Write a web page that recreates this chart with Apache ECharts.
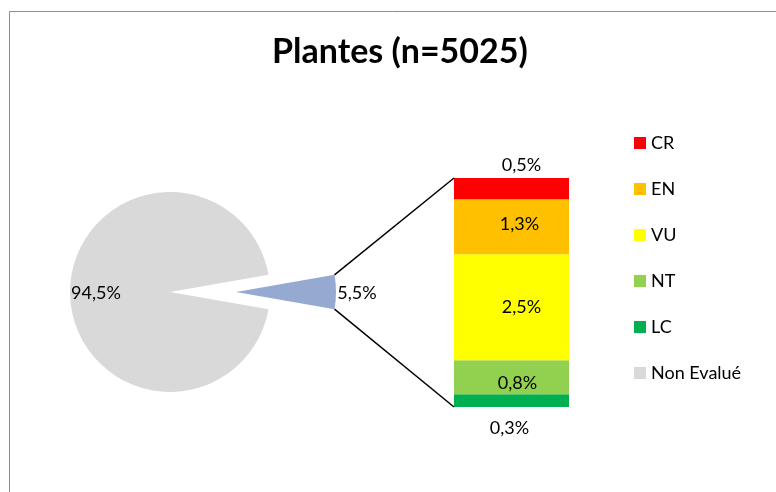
<!DOCTYPE html>
<html>
<head>
<meta charset="utf-8">
<script src="https://cdn.jsdelivr.net/npm/echarts@6/dist/echarts.min.js"></script>
<style>
html,body{margin:0;padding:0;background:#fff}
#chart{width:776px;height:492px}
</style>
</head>
<body>
<div id="chart"></div>
<script>
// Pie: evaluated vs not evaluated share of the flora
const titleText = 'Plantes (n=5025)';
const pieNames = ['Evalué', 'Non Evalué'];
const pieValues = [5.5, 94.5];
const pieColors = ['#95A9D1', '#D9D9D9'];

// Breakdown of the evaluated share by red-list status (top to bottom)
const statusNames = ['CR', 'EN', 'VU', 'NT', 'LC'];
const statusValues = [0.5, 1.3, 2.5, 0.8, 0.3];
const statusColors = ['#FF0000', '#FFC000', '#FFFF00', '#92D050', '#00B050'];

const legendNames = ['CR', 'EN', 'VU', 'NT', 'LC', 'Non Evalué'];

const FONT = 'Lato, "Open Sans", sans-serif';
const LABEL_SIZE = 18;
const fmt = v => v.toFixed(1).replace('.', ',') + '%';

const pieTotal = pieValues.reduce((a, b) => a + b, 0);
const barTotal = statusValues.reduce((a, b) => a + b, 0);

const PIE_CENTER = [170, 292];
const PIE_R = 100;
const PIE_OFFSET = 66;
const GRID = { left: 454, top: 178, width: 115, height: 229 };

// label placement per status
const labelShift = {
  CR: { position: 'top', offset: [10, 0] },
  EN: { position: 'inside', offset: [8, -3] },
  VU: { position: 'inside', offset: [10, 0] },
  NT: { position: 'inside', offset: [6, 6] },
  LC: { position: 'bottom', offset: [-2, 8] }
};

// stacked bars are drawn bottom-up, so walk the status list in reverse
const barSeries = statusNames.map((name, i) => ({
  name: name,
  type: 'bar',
  stack: 'evalue',
  barWidth: '100%',
  xAxisIndex: 0,
  yAxisIndex: 0,
  data: [statusValues[i]],
  itemStyle: { color: statusColors[i] },
  label: {
    show: true,
    position: labelShift[name].position,
    offset: labelShift[name].offset,
    distance: 4,
    color: '#000',
    fontSize: LABEL_SIZE,
    fontFamily: FONT,
    formatter: p => fmt(p.value)
  },
  emphasis: { disabled: true }
})).reverse();

const halfAngleDeg = pieValues[0] / pieTotal * 180;

// connector lines from the detached slice to the stacked column;
// the value axis runs from 0 to the column total over the whole grid height
const half = halfAngleDeg * Math.PI / 180;
const apexX = PIE_CENTER[0] + PIE_OFFSET;
const cornerX = apexX + PIE_R * Math.cos(half);
const cornerTopY = PIE_CENTER[1] - PIE_R * Math.sin(half);
const cornerBotY = PIE_CENTER[1] + PIE_R * Math.sin(half);
const barTopY = GRID.top;
const barBotY = GRID.top + GRID.height;
const barLeftX = GRID.left;

const chart = echarts.init(document.getElementById('chart'), null, { renderer: 'canvas' });

chart.setOption({
  animation: false,
  backgroundColor: '#fff',
  title: {
    text: titleText,
    left: 267,
    top: 30,
    textStyle: { fontFamily: FONT, fontSize: 34, fontWeight: 'bold', color: '#000' }
  },
  legend: {
    orient: 'vertical',
    left: 634,
    top: 134,
    padding: 0,
    itemWidth: 12,
    itemHeight: 12,
    itemGap: 28,
    icon: 'rect',
    selectedMode: false,
    data: legendNames,
    textStyle: { fontFamily: FONT, fontSize: LABEL_SIZE, color: '#000' }
  },
  grid: GRID,
  xAxis: { type: 'category', data: ['Evalué'], show: false },
  yAxis: { type: 'value', min: 0, max: barTotal, show: false },
  graphic: [
    {
      type: 'polyline',
      z: 10,
      shape: { points: [[9.5, 492], [9.5, 11.5], [776, 11.5]] },
      style: { stroke: '#8C8C8C', lineWidth: 1, fill: null }
    },
    {
      type: 'line',
      z: 10,
      shape: { x1: cornerX, y1: cornerTopY, x2: barLeftX, y2: barTopY },
      style: { stroke: '#000', lineWidth: 1.5 }
    },
    {
      type: 'line',
      z: 10,
      shape: { x1: cornerX, y1: cornerBotY, x2: barLeftX, y2: barBotY },
      style: { stroke: '#000', lineWidth: 1.5 }
    }
  ],
  series: [
    {
      type: 'pie',
      center: PIE_CENTER,
      radius: PIE_R,
      startAngle: halfAngleDeg,
      clockwise: true,
      selectedMode: 'single',
      selectedOffset: PIE_OFFSET,
      avoidLabelOverlap: false,
      data: pieNames.map((n, i) => ({
        name: n,
        value: pieValues[i],
        selected: i === 0,
        itemStyle: { color: pieColors[i] }
      })),
      label: {
        show: true,
        position: 'inside',
        color: '#000',
        fontSize: LABEL_SIZE,
        fontFamily: FONT,
        formatter: p => fmt(p.value)
      },
      labelLine: { show: false },
      labelLayout: p => (p.dataIndex === 0 ? { dx: 68, dy: 1 } : { dx: -21, dy: 1 }),
      itemStyle: { borderWidth: 0 },
      emphasis: { disabled: true },
      select: { itemStyle: { borderWidth: 0 } }
    }
  ].concat(barSeries)
});
</script>
</body>
</html>
